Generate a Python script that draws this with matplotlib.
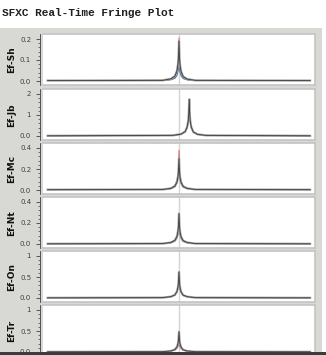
import matplotlib
matplotlib.use("Agg")
import matplotlib.pyplot as plt
import numpy as np

# stations paired with Ef
stations = ["Ef-Sh", "Ef-Jb", "Ef-Mc", "Ef-Nt", "Ef-On", "Ef-Tr"]

# y ticks per baseline
ytick_vals = [[0.0, 0.1, 0.2], [0.0, 1.0, 2.0], [0.0, 0.2, 0.4],
              [0.0, 0.2, 0.4], [0.0, 0.5, 1.0], [0.0, 0.5, 1.0]]
ytick_labels = [["0.0", "0.1", "0.2"], ["0.0", "1", "2"], ["0.0", "0.2", "0.4"],
                ["0.0", "0.2", "0.4"], ["0.0", "0.5", "1"], ["0.0", "0.5", "1"]]

# lag offsets around the fringe peak and peak position per baseline
lag_offsets = [-512, -64, -32, -16, -8, -4, -2, 0, 2, 4, 8, 16, 32, 64, 511]
peak_lag = [0, 40, 0, 0, 0, 0]

# fringe amplitude per channel colour (black, red, green, blue)
amp = {
    "Ef-Sh": {
        "k": [0.002, 0.003, 0.010, 0.023, 0.048, 0.080, 0.115, 0.190, 0.110, 0.076, 0.046, 0.021, 0.009, 0.003, 0.002],
        "r": [0.002, 0.004, 0.011, 0.025, 0.052, 0.086, 0.125, 0.205, 0.118, 0.082, 0.049, 0.023, 0.010, 0.003, 0.002],
        "g": [0.002, 0.003, 0.007, 0.015, 0.030, 0.050, 0.072, 0.120, 0.070, 0.048, 0.029, 0.014, 0.006, 0.002, 0.002],
        "b": [0.002, 0.002, 0.005, 0.012, 0.025, 0.042, 0.060, 0.100, 0.058, 0.040, 0.024, 0.011, 0.005, 0.002, 0.002],
    },
    "Ef-Jb": {
        "k": [0.01, 0.03, 0.09, 0.21, 0.44, 0.73, 1.05, 1.75, 1.01, 0.70, 0.42, 0.19, 0.08, 0.03, 0.01],
        "r": [0.01, 0.03, 0.08, 0.20, 0.41, 0.69, 0.99, 1.65, 0.96, 0.66, 0.40, 0.18, 0.08, 0.03, 0.01],
        "g": [0.01, 0.02, 0.08, 0.19, 0.39, 0.65, 0.93, 1.55, 0.90, 0.62, 0.37, 0.17, 0.07, 0.02, 0.01],
        "b": [0.01, 0.02, 0.08, 0.19, 0.40, 0.67, 0.96, 1.60, 0.93, 0.64, 0.38, 0.18, 0.08, 0.02, 0.01],
    },
    "Ef-Mc": {
        "k": [0.003, 0.005, 0.015, 0.036, 0.075, 0.126, 0.180, 0.300, 0.174, 0.120, 0.072, 0.033, 0.015, 0.005, 0.003],
        "r": [0.003, 0.006, 0.019, 0.046, 0.095, 0.160, 0.228, 0.380, 0.220, 0.152, 0.091, 0.042, 0.019, 0.006, 0.003],
        "g": [0.003, 0.004, 0.012, 0.030, 0.062, 0.105, 0.150, 0.250, 0.145, 0.100, 0.060, 0.028, 0.012, 0.004, 0.003],
        "b": [0.003, 0.004, 0.014, 0.034, 0.070, 0.118, 0.168, 0.280, 0.162, 0.112, 0.067, 0.031, 0.014, 0.004, 0.003],
    },
    "Ef-Nt": {
        "k": [0.002, 0.004, 0.014, 0.035, 0.072, 0.122, 0.174, 0.290, 0.168, 0.116, 0.070, 0.032, 0.014, 0.004, 0.002],
        "r": [0.002, 0.004, 0.013, 0.032, 0.068, 0.113, 0.162, 0.270, 0.157, 0.108, 0.065, 0.030, 0.013, 0.004, 0.002],
        "g": [0.002, 0.003, 0.010, 0.024, 0.050, 0.084, 0.120, 0.200, 0.116, 0.080, 0.048, 0.022, 0.010, 0.003, 0.002],
        "b": [0.002, 0.004, 0.012, 0.029, 0.060, 0.101, 0.144, 0.240, 0.139, 0.096, 0.058, 0.026, 0.012, 0.004, 0.002],
    },
    "Ef-On": {
        "k": [0.004, 0.009, 0.031, 0.074, 0.155, 0.260, 0.372, 0.620, 0.360, 0.248, 0.149, 0.068, 0.031, 0.009, 0.004],
        "r": [0.004, 0.008, 0.027, 0.065, 0.135, 0.227, 0.324, 0.540, 0.313, 0.216, 0.130, 0.059, 0.027, 0.008, 0.004],
        "g": [0.004, 0.009, 0.028, 0.068, 0.142, 0.239, 0.342, 0.570, 0.331, 0.228, 0.137, 0.063, 0.028, 0.009, 0.004],
        "b": [0.004, 0.008, 0.028, 0.067, 0.140, 0.235, 0.336, 0.560, 0.325, 0.224, 0.134, 0.062, 0.028, 0.008, 0.004],
    },
    "Ef-Tr": {
        "k": [0.004, 0.007, 0.024, 0.058, 0.120, 0.202, 0.288, 0.480, 0.278, 0.192, 0.115, 0.053, 0.024, 0.007, 0.004],
        "r": [0.004, 0.006, 0.020, 0.045, 0.085, 0.125, 0.160, 0.220, 0.155, 0.120, 0.082, 0.043, 0.019, 0.006, 0.004],
        "g": [0.004, 0.006, 0.019, 0.046, 0.095, 0.160, 0.228, 0.380, 0.220, 0.152, 0.091, 0.042, 0.019, 0.006, 0.004],
        "b": [0.004, 0.008, 0.025, 0.060, 0.125, 0.210, 0.300, 0.500, 0.290, 0.200, 0.120, 0.055, 0.025, 0.008, 0.004],
    },
}

line_colors = {"g": "#3a9a4a", "b": "#2a4a9a", "r": "#d83030"}

W, H = 326, 355
panel_bg = "#d8d8d4"

fig = plt.figure(figsize=(W / 100, H / 100), dpi=100)
fig.patch.set_facecolor("white")

# grey panel behind the plots
fig.patches.append(plt.Rectangle((0, 0), 322 / W, 1 - 28 / H, transform=fig.transFigure,
                                 facecolor=panel_bg, edgecolor="none", zorder=-10))
# dark status bar at the bottom
fig.patches.append(plt.Rectangle((0, 0), 1, 3 / H, transform=fig.transFigure,
                                 facecolor="#3c3c3c", edgecolor="none", zorder=10))

fig.text(2 / W, 1 - 13 / H, "SFXC Real-Time Fringe Plot", fontsize=8,
         family="Liberation Mono", fontweight="bold", color="#202020", va="center")

tops = [34, 89, 143, 197, 251, 305]
ax_h = 51
x0, x1 = 43, 315

for i, name in enumerate(stations):
    top = tops[i]
    ax = fig.add_axes([x0 / W, 1 - (top + ax_h) / H, (x1 - x0) / W, ax_h / H])
    ax.set_facecolor("white")

    T = ytick_vals[i][-1]
    ax.set_ylim(-T * 4 / 42, T * (1 + 5 / 42))
    ax.set_xlim(-530, 530)

    ax.axvline(0, color="#d4d4d4", lw=1.0, zorder=1)

    # shift the peak, keep the ends at the edges of the lag window
    lags = np.array(lag_offsets) + peak_lag[i]
    lags[0], lags[-1] = lag_offsets[0], lag_offsets[-1]

    # coloured channels underneath, grey band on top hides them along the floor
    for c in ["g", "b", "r"]:
        ax.plot(lags, amp[name][c], color=line_colors[c], lw=0.6, alpha=0.8, zorder=2)
    ax.plot(lags, amp[name]["k"], color="#a4a4a4", lw=1.6, zorder=3)
    ax.plot(lags, amp[name]["k"], color="#101010", lw=0.6, alpha=0.7, zorder=4)

    ax.set_yticks(ytick_vals[i])
    ax.set_yticklabels(ytick_labels[i])
    ax.set_yticks(np.linspace(0, T, 11), minor=True)
    ax.set_xticks([])
    ax.tick_params(axis="y", which="major", length=3, width=0.6, labelsize=5,
                   colors="#404040", pad=3.5)
    ax.tick_params(axis="y", which="minor", length=1.5, width=0.5, colors="#404040")

    for s in ["top", "right", "bottom"]:
        ax.spines[s].set_color("#c4c4c4")
        ax.spines[s].set_linewidth(1.2)
    ax.spines["left"].set_position(("outward", 2))
    ax.spines["left"].set_color("#404040")
    ax.spines["left"].set_linewidth(0.6)

    fig.text(12 / W, 1 - (top + 26) / H, name, rotation=90, fontsize=6.5,
             fontweight="bold", ha="center", va="center", color="#101010")

fig.savefig("out.png", dpi=100, facecolor=fig.get_facecolor())
